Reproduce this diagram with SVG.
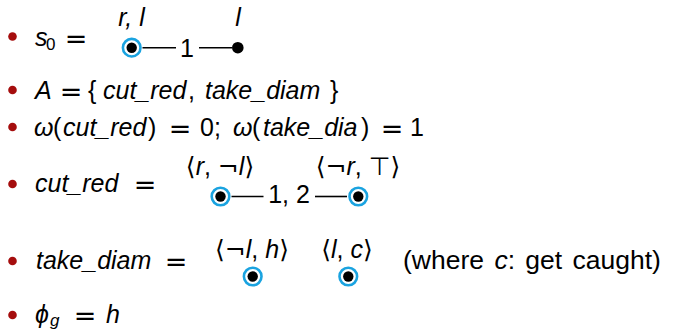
<svg xmlns="http://www.w3.org/2000/svg" width="675" height="329" viewBox="0 0 675 329">
<style>
.t{font-family:"Liberation Sans",Arial,sans-serif;font-size:25px;fill:#000}
.i{font-style:italic}
.sub{font-size:17px}
.m{font-family:"DejaVu Sans","Noto Sans",sans-serif}
.eq{font-family:"DejaVu Sans",sans-serif;font-size:27px;text-anchor:middle}
.mid{text-anchor:middle}
.ring{fill:#fff;stroke:#1aa3e0;stroke-width:2.6}
.dot{fill:#000}
.bul{fill:#a50d0d}
.edge{stroke:#000;stroke-width:1.6;fill:none}
</style>
<rect width="675" height="329" fill="#fff"/>
<g id="bullets">
<circle class="bul" cx="12.5" cy="36.5" r="4.3"/>
<circle class="bul" cx="12.5" cy="90" r="4.3"/>
<circle class="bul" cx="12.5" cy="127" r="4.3"/>
<circle class="bul" cx="12.5" cy="184" r="4.3"/>
<circle class="bul" cx="12.5" cy="261" r="4.3"/>
<circle class="bul" cx="12.5" cy="315" r="4.3"/>
</g>
<g id="text-lines">
<text class="t i" x="35" y="46">s</text>
<text class="t sub" x="46" y="50">0</text>
<text class="eq" x="76" y="47.5">=</text>

<text class="t i" x="35" y="99">A</text>
<text class="eq" x="71" y="100.5">=</text>
<text class="t" x="88" y="99">{</text>
<text class="t i" x="103" y="99">cut_red</text>
<text class="t" x="188" y="99">,</text>
<text class="t i" x="205" y="99">take_diam</text>
<text class="t" x="330" y="99">}</text>

<text class="t i" x="34" y="136">ω</text>
<text class="t" x="53" y="136">(</text>
<text class="t i" x="63" y="136">cut_red</text>
<text class="t" x="148" y="136">)</text>
<text class="eq" x="180" y="137.5">=</text>
<text class="t" x="200" y="136">0;</text>
<text class="t i" x="233" y="136">ω</text>
<text class="t" x="252" y="136">(</text>
<text class="t i" x="263" y="136">take_dia</text>
<text class="t" x="361" y="136">)</text>
<text class="eq" x="392" y="137.5">=</text>
<text class="t" x="410" y="136">1</text>

<text class="t i" x="35" y="192">cut_red</text>
<text class="eq" x="145" y="193.5">=</text>

<text class="t i" x="36" y="269">take_diam</text>
<text class="eq" x="176" y="270.5">=</text>
<text class="t" x="403" y="269" style="font-size:26.5px;word-spacing:3px">(where <tspan class="i">c</tspan>: get caught)</text>

<text class="t i" x="35" y="323">ϕ</text>
<text class="t i sub" x="50" y="325.5">g</text>
<text class="eq" x="85" y="324.5">=</text>
<text class="t i" x="106" y="323">h</text>
</g>
<g id="labels">
<text class="t i mid" x="131.5" y="26">r, l</text>
<text class="t i mid" x="238" y="26">l</text>
<text class="t mid" x="220" y="175"><tspan class="m">⟨</tspan><tspan class="i">r</tspan>, <tspan class="m">¬</tspan><tspan class="i">l</tspan><tspan class="m">⟩</tspan></text>
<text class="t mid" x="358" y="175"><tspan class="m">⟨¬</tspan><tspan class="i">r</tspan>, <tspan class="m">⊤⟩</tspan></text>
<text class="t mid" x="252" y="258"><tspan class="m">⟨¬</tspan><tspan class="i">l</tspan>, <tspan class="i">h</tspan><tspan class="m">⟩</tspan></text>
<text class="t mid" x="347" y="258"><tspan class="m">⟨</tspan><tspan class="i">l</tspan>, <tspan class="i">c</tspan><tspan class="m">⟩</tspan></text>
</g>
<g id="connectors">
<line class="edge" x1="142.5" y1="47.7" x2="176" y2="47.7"/>
<text class="t mid" x="187" y="57">1</text>
<line class="edge" x1="199" y1="47.7" x2="232" y2="47.7"/>
<line class="edge" x1="231.5" y1="196.5" x2="263.5" y2="196.5"/>
<text class="t mid" x="289" y="203">1, 2</text>
<line class="edge" x1="315" y1="196.5" x2="347" y2="196.5"/>
</g>
<g id="s0-n1"><circle class="ring" cx="131.7" cy="47.7" r="8.8"/><circle class="dot" cx="131.7" cy="47.7" r="5.2"/></g>
<g id="s0-n2"><circle class="dot" cx="237.8" cy="47.7" r="5.8"/></g>
<g id="cut-n1"><circle class="ring" cx="220.5" cy="196.5" r="8.8"/><circle class="dot" cx="220.5" cy="196.5" r="5.2"/></g>
<g id="cut-n2"><circle class="ring" cx="358.3" cy="196.5" r="8.8"/><circle class="dot" cx="358.3" cy="196.5" r="5.2"/></g>
<g id="take-n1"><circle class="ring" cx="252.7" cy="276.5" r="8.8"/><circle class="dot" cx="252.7" cy="276.5" r="5.2"/></g>
<g id="take-n2"><circle class="ring" cx="348.3" cy="276.5" r="8.8"/><circle class="dot" cx="348.3" cy="276.5" r="5.2"/></g>
</svg>
